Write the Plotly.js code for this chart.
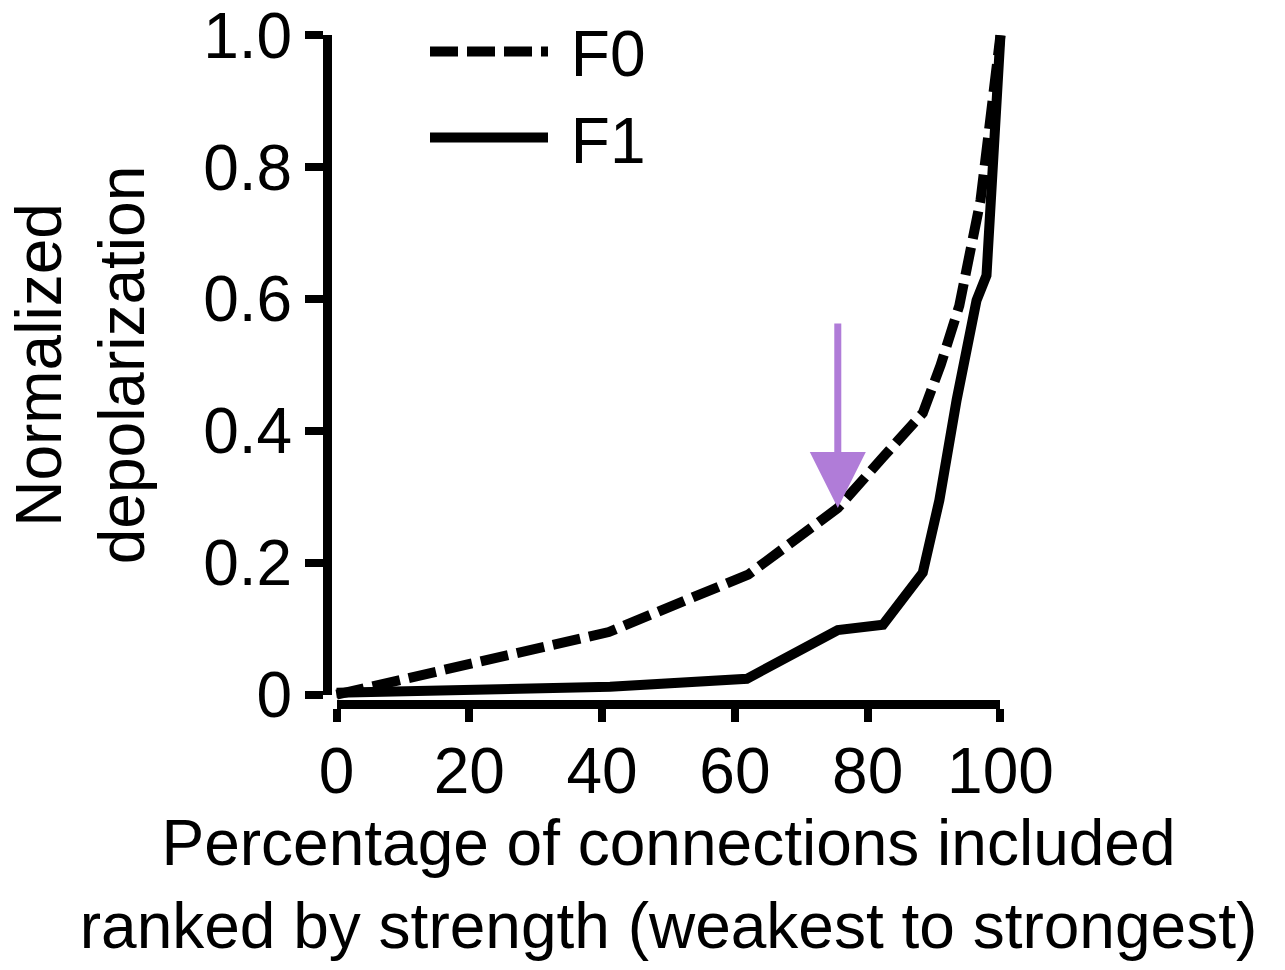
<!DOCTYPE html>
<html><head><meta charset="utf-8">
<script src="https://cdn.plot.ly/plotly-3.0.1.min.js"></script>
<style>html,body{margin:0;padding:0;background:#fff}</style>
</head><body><div id="chart" style="width:1285px;height:970px"></div>
<script>
// ---- data ----
const seriesNames = ['F0', 'F1'];
const pctF0   = [0, 41, 62, 75.5, 82.3, 88.3, 91, 93.8, 97, 100];
const depolF0 = [0, 0.095, 0.182, 0.283, 0.36, 0.427, 0.5, 0.59, 0.75, 1.0];
const pctF1   = [0, 41.2, 61.8, 75.5, 82.3, 88.3, 90.8, 93.4, 96.4, 97.9, 100];
const depolF1 = [0.003, 0.012, 0.024, 0.098, 0.106, 0.185, 0.295, 0.447, 0.598, 0.636, 1.0];
const xTickVals = [0, 20, 40, 60, 80, 100];
const yTickVals = [0, 0.2, 0.4, 0.6, 0.8, 1.0];
const yTickText = ['0', '0.2', '0.4', '0.6', '0.8', '1.0'];
const xTitle = 'Percentage of connections included<br>ranked by strength (weakest to strongest)';
const yTitle = 'Normalized<br>depolarization';
const arrowPoint = {x: 75.5, y: 0.283};

// ---- layout geometry ----
const W = 1285, H = 970;
const M = {l: 310, r: 258, t: 9, b: 249};
const xDataRange = [-4, 104], yDataRange = [-0.04, 1.04];
const xShow = [0, 100], yShow = [0, 1];
const frac = (v, r) => (v - r[0]) / (r[1] - r[0]);
const plotW = W - M.l - M.r, plotH = H - M.t - M.b;
const xLinePx = 704, yLinePx = 327;
const FONT = 'Liberation Sans, Arial, Helvetica, sans-serif';
const BLACK = '#000000';
const legendGap = '\u00a0'; // small gap between legend line and its label

const traces = [
  {x: pctF0, y: depolF0, name: legendGap + seriesNames[0], type: 'scatter', mode: 'lines',
   line: {color: BLACK, width: 10, dash: '28px,9px'}, xaxis: 'x', yaxis: 'y', hoverinfo: 'skip'},
  {x: pctF1, y: depolF1, name: legendGap + seriesNames[1], type: 'scatter', mode: 'lines',
   line: {color: BLACK, width: 10}, xaxis: 'x', yaxis: 'y', hoverinfo: 'skip'},
  {x: [], y: [], xaxis: 'x2', yaxis: 'y2', showlegend: false, type: 'scatter', mode: 'lines', hoverinfo: 'skip'}
];

const layout = {
  width: W, height: H,
  margin: Object.assign({autoexpand: false}, M),
  paper_bgcolor: '#ffffff', plot_bgcolor: 'rgba(0,0,0,0)',
  font: {family: FONT, size: 64, color: BLACK},
  showlegend: true,
  legend: {
    x: (425 - M.l) / plotW, y: 1.008, xanchor: 'left', yanchor: 'top',
    bgcolor: 'rgba(0,0,0,0)', borderwidth: 0,
    font: {family: FONT, size: 64, color: BLACK},
    itemwidth: 118, tracegroupgap: 0
  },
  xaxis: {range: xDataRange, visible: false, fixedrange: true, automargin: false},
  yaxis: {range: yDataRange, visible: false, fixedrange: true, automargin: false},
  xaxis2: {
    domain: [frac(xShow[0], xDataRange), frac(xShow[1], xDataRange)],
    range: xShow, anchor: 'free', position: (H - M.b - xLinePx) / plotH, side: 'bottom',
    showline: true, linecolor: BLACK, linewidth: 9, automargin: false,
    ticks: 'outside', ticklen: 13, tickwidth: 8, tickcolor: BLACK, tickangle: 0,
    tickmode: 'array', tickvals: xTickVals, ticklabeloverflow: 'allow', ticklabelstandoff: -6,
    showgrid: false, zeroline: false, fixedrange: true,
    tickfont: {family: FONT, size: 64, color: BLACK},
    title: {text: xTitle, font: {family: FONT, size: 64, color: BLACK}, standoff: 3}
  },
  yaxis2: {
    domain: [frac(yShow[0], yDataRange), frac(yShow[1], yDataRange)],
    range: yShow, anchor: 'free', position: (yLinePx - M.l) / plotW, side: 'left',
    showline: true, linecolor: BLACK, linewidth: 9, automargin: false,
    ticks: 'outside', ticklen: 18, tickwidth: 8, tickcolor: BLACK,
    tickmode: 'array', tickvals: yTickVals, ticktext: yTickText, ticklabeloverflow: 'allow',
    showgrid: false, zeroline: false, fixedrange: true,
    tickfont: {family: FONT, size: 64, color: BLACK},
    title: {text: yTitle, font: {family: FONT, size: 64, color: BLACK}, standoff: 36}
  },
  annotations: [{
    xref: 'x', yref: 'y', x: arrowPoint.x, y: arrowPoint.y,
    axref: 'pixel', ayref: 'pixel', ax: 0, ay: -186,
    text: '', showarrow: true, arrowhead: 2, arrowsize: 1.6,
    arrowwidth: 7, arrowcolor: '#b07cd8', standoff: 0
  }]
};

Plotly.newPlot('chart', traces, layout, {displayModeBar: false, staticPlot: true});
</script>
</body></html>
